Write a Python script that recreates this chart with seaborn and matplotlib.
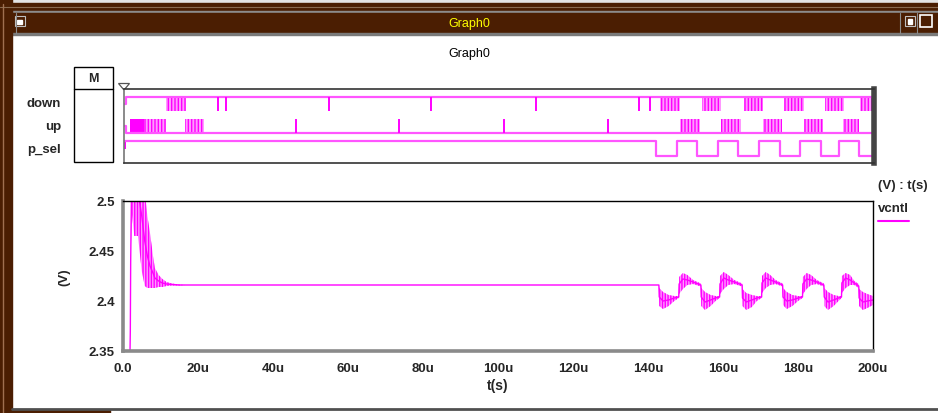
import numpy as np
import pandas as pd
import matplotlib
matplotlib.use("Agg")
import matplotlib.pyplot as plt
from matplotlib.patches import Rectangle, Polygon
import seaborn as sns

sns.set_style("white")
plt.rcParams['font.family'] = ['Liberation Sans', 'DejaVu Sans']
plt.rcParams['hatch.linewidth'] = 1.0

# ---------------- data ----------------
signal_names = ["down", "up", "p_sel"]

# digital: isolated single pulses (us)
down_pulses = [25.1, 27.2, 54.7, 81.9, 109.9, 137.3, 140.3]
up_pulses = [45.9, 73.3, 101.3, 129.0]
# digital: pulse bursts (start, end) in us
down_bursts = [(11.2, 16.5), (143.0, 148.2), (154.2, 159.1), (165.2, 170.3),
               (176.0, 181.2), (187.0, 192.1), (196.3, 200.0)]
up_bursts = [(5.4, 11.2), (16.3, 21.3), (148.3, 153.6), (159.2, 164.5),
             (170.4, 175.5), (181.3, 186.4), (191.7, 196.0)]
up_dense = [(1.6, 5.4)]
# p_sel edges (us): falling, rising, ...
psel_edges = [141.9, 147.5, 152.8, 158.4, 163.7, 169.3, 174.9, 180.3, 185.9, 190.7, 196.0]

# analog vcntl (time in us, volts): centre trace and ripple envelope
vc_t = [0.0, 1.8, 1.95, 2.05, 2.3, 3.0, 4.0, 5.0, 5.8, 6.5, 7.2, 8.0, 8.5, 9.5, 10.5, 11.6, 13.0, 15.0, 16.5,
        142.9, 143.0, 144.0, 145.5, 147.0, 148.2, 148.3, 149.3, 150.5, 152.0, 154.1,
        154.2, 155.2, 156.7, 158.0, 159.1, 159.2, 160.2, 161.4, 163.0, 165.1,
        165.2, 166.2, 167.7, 169.0, 170.3, 170.4, 171.4, 172.6, 174.0, 175.9,
        176.0, 177.0, 178.5, 180.0, 181.2, 181.3, 182.3, 183.5, 185.0, 186.9,
        187.0, 188.0, 189.5, 190.8, 191.6, 191.7, 192.7, 193.9, 195.0, 196.2,
        196.3, 197.3, 198.5, 200.0]
vc_mid = [2.30, 2.33, 2.37, 2.44, 2.52, 2.51, 2.51, 2.485, 2.46, 2.445, 2.435, 2.428, 2.423, 2.420, 2.418, 2.417, 2.4165, 2.416, 2.416,
          2.416, 2.404, 2.400, 2.401, 2.403, 2.404, 2.417, 2.422, 2.421, 2.419, 2.416,
          2.404, 2.399, 2.401, 2.403, 2.404, 2.417, 2.423, 2.421, 2.419, 2.416,
          2.403, 2.399, 2.401, 2.403, 2.404, 2.418, 2.423, 2.421, 2.419, 2.416,
          2.404, 2.400, 2.401, 2.403, 2.404, 2.417, 2.422, 2.421, 2.419, 2.416,
          2.404, 2.399, 2.401, 2.403, 2.404, 2.418, 2.423, 2.421, 2.418, 2.415,
          2.403, 2.399, 2.400, 2.401]
vc_hi = [2.30, 2.33, 2.37, 2.44, 2.56, 2.56, 2.56, 2.54, 2.51, 2.485, 2.468, 2.445, 2.433, 2.426, 2.422, 2.419, 2.4175, 2.4165, 2.416,
         2.416, 2.413, 2.409, 2.406, 2.405, 2.405, 2.424, 2.428, 2.426, 2.421, 2.4175,
         2.413, 2.409, 2.406, 2.405, 2.405, 2.425, 2.429, 2.426, 2.421, 2.4175,
         2.412, 2.408, 2.406, 2.405, 2.405, 2.425, 2.429, 2.426, 2.421, 2.4175,
         2.413, 2.409, 2.406, 2.405, 2.405, 2.424, 2.428, 2.426, 2.421, 2.4175,
         2.413, 2.409, 2.406, 2.405, 2.405, 2.425, 2.428, 2.426, 2.420, 2.417,
         2.412, 2.409, 2.407, 2.405]
vc_lo = [2.30, 2.33, 2.37, 2.44, 2.49, 2.465, 2.465, 2.43, 2.415, 2.413, 2.413, 2.413, 2.413, 2.414, 2.414, 2.415, 2.4155, 2.4155, 2.416,
         2.416, 2.395, 2.392, 2.395, 2.400, 2.403, 2.407, 2.412, 2.416, 2.417, 2.4145,
         2.395, 2.391, 2.395, 2.400, 2.403, 2.407, 2.412, 2.416, 2.417, 2.4145,
         2.395, 2.391, 2.394, 2.400, 2.403, 2.408, 2.413, 2.416, 2.417, 2.4145,
         2.396, 2.392, 2.395, 2.400, 2.403, 2.407, 2.412, 2.416, 2.417, 2.4145,
         2.395, 2.391, 2.395, 2.400, 2.403, 2.408, 2.413, 2.416, 2.416, 2.413,
         2.395, 2.391, 2.393, 2.396]

x_ticks = [0, 20, 40, 60, 80, 100, 120, 140, 160, 180, 200]
x_tick_labels = ["0.0", "20u", "40u", "60u", "80u", "100u", "120u", "140u", "160u", "180u", "200u"]
y_ticks = [2.35, 2.40, 2.45, 2.50]
y_tick_labels = ["2.35", "2.4", "2.45", "2.5"]

# ---------------- layout ----------------
W, H = 938, 414
MAG = "#ff00ff"
MAG_L = "#ff55ff"
MAG_P = "#ff9cff"
BROWN = "#4b1e02"

fig = plt.figure(figsize=(W / 100, H / 100), dpi=100)
fig.patch.set_facecolor("white")


def px_axes(l, t, r, b, **kw):
    return fig.add_axes([l / W, 1 - b / H, (r - l) / W, (b - t) / H], **kw)


# background / window chrome in pixel coordinates
bg = px_axes(0, 0, W, H, zorder=-5)
bg.set_xlim(0, W)
bg.set_ylim(H, 0)
bg.axis("off")
bg.add_patch(Rectangle((0, 0), W, 4, color="#e4e4e4"))
bg.add_patch(Rectangle((0, 4), W, 9, color=BROWN))
bg.plot([0, W], [8, 8], color="#8a6a50", lw=0.8)
bg.add_patch(Rectangle((0, 12), W, 1.5, color="#8c8c8c"))
bg.add_patch(Rectangle((0, 13.5), W, 20, color=BROWN))
bg.add_patch(Rectangle((12, 33.5), W, 2, color="#7a7a7a"))
bg.add_patch(Rectangle((0, 0), 12, H, color=BROWN))
bg.plot([3, 3], [5, H], color="#a07050", lw=1)
bg.plot([12, W], [410, 410], color="#505050", lw=2)
bg.add_patch(Rectangle((0, 411), 110, 3, color=BROWN))
# title bar buttons
bg.add_patch(Rectangle((15, 17), 10, 10, facecolor=BROWN, edgecolor="#c0c0c0", lw=0.8))
bg.add_patch(Rectangle((17, 21), 5, 4, color="white"))
bg.add_patch(Rectangle((905, 17), 10, 10, facecolor=BROWN, edgecolor="#c0c0c0", lw=0.8))
bg.add_patch(Rectangle((908, 20), 4, 5, color="white"))
bg.add_patch(Rectangle((920, 16), 12, 12, facecolor=BROWN, edgecolor="white", lw=1.2))
bg.plot([16, 16], [14, 34], color="#8c8c8c", lw=0.8)
bg.plot([900, 900], [14, 34], color="#8c8c8c", lw=0.8)
bg.plot([917, 917], [14, 34], color="#8c8c8c", lw=0.8)
bg.text(469, 23.5, "Graph0", color="#ffff00", ha="center", va="center", fontsize=9)
bg.text(469, 54, "Graph0", color="black", ha="center", va="center", fontsize=9)

# M box
bg.add_patch(Rectangle((74, 68), 39, 95, facecolor="white", edgecolor="black", lw=1))
bg.plot([74, 113], [90, 90], color="black", lw=1)
bg.text(93.5, 79, "M", ha="center", va="center", fontsize=9, fontweight="bold")
row_y = [104, 127, 150]
for name, yy in zip(signal_names, row_y):
    bg.text(61, yy, name, ha="right", va="center", fontsize=9.5, fontweight="bold")
# cursor marker
bg.add_patch(Polygon([[118.5, 84.5], [129.5, 84.5], [124, 91]], closed=True,
                     facecolor="white", edgecolor="#555555", lw=0.9))

# legend text
bg.text(878, 186, "(V) : t(s)", ha="left", va="center", fontsize=9.5, fontweight="bold")
bg.text(878, 209, "vcntl", ha="left", va="center", fontsize=9.5, fontweight="bold")
bg.plot([878, 909], [222, 222], color=MAG, lw=1.5)
bg.text(64, 277, "(V)", ha="center", va="center", rotation=90, fontsize=9.5,
        fontweight="bold")
bg.text(498, 386, "t(s)", ha="center", va="center", fontsize=10, fontweight="bold")

# ---------------- digital panel ----------------
dg = px_axes(124, 90, 874, 164)
dg.set_xlim(0, 200)
dg.set_ylim(164, 90)
dg.set_xticks([])
dg.set_yticks([])
for s in ["top", "bottom"]:
    dg.spines[s].set_color("#333333")
    dg.spines[s].set_linewidth(1.2)
dg.spines["left"].set_color("#777777")
dg.spines["left"].set_linewidth(1.2)
dg.spines["right"].set_color("#444444")
dg.spines["right"].set_linewidth(4)

levels = {"down": (98, 112), "up": (120, 134), "p_sel": (142, 157)}

# down: mostly high, pulses low
dh, dl = levels["down"]
dg.plot([0, 0.5, 0.5, 200], [105, 105, dh, dh], color=MAG_L, lw=1.6)
dg.vlines(down_pulses, dh, dl, color=MAG, lw=1.4)
for a, b in down_bursts:
    dg.fill_between([a, b], dh, dl, facecolor=MAG_P, edgecolor=MAG, hatch="|||||", lw=0)

# up: mostly low, pulses high
uh, ul = levels["up"]
dg.plot([0, 0.5, 0.5, 200], [127, 127, ul, ul], color=MAG_L, lw=1.6)
dg.vlines(up_pulses, uh, ul, color=MAG, lw=1.4)
for a, b in up_bursts:
    dg.fill_between([a, b], uh, ul, facecolor=MAG_P, edgecolor=MAG, hatch="|||||", lw=0)
for a, b in up_dense:
    dg.fill_between([a, b], uh, ul, color=MAG, lw=0)

# p_sel: square wave
ph, pl = levels["p_sel"]
xs, ys = [0], [ph]
state = ph
for e in psel_edges:
    xs += [e, e]
    nxt = pl if state == ph else ph
    ys += [state, nxt]
    state = nxt
xs.append(200)
ys.append(state)
dg.plot(xs, ys, color=MAG_L, lw=1.6)
dg.fill_between([0, 0.5], ph, 150, color=MAG, lw=0)

# ---------------- analog panel ----------------
ax = px_axes(123, 202, 873, 352)
df = pd.DataFrame({"t": vc_t, "v": vc_mid, "hi": vc_hi, "lo": vc_lo})
ax.fill_between(df["t"], df["lo"], df["hi"], facecolor=MAG_P, edgecolor=MAG,
                hatch="||||||", lw=0)
sns.lineplot(data=df, x="t", y="v", ax=ax, color=MAG, lw=1.0, legend=False)
ax.set_xlim(0, 200)
ax.set_ylim(2.35, 2.50)
ax.set_xticks(x_ticks)
ax.set_xticklabels(x_tick_labels)
ax.set_yticks(y_ticks)
ax.set_yticklabels(y_tick_labels)
ax.set_xlabel("")
ax.set_ylabel("")
for s in ["top", "right"]:
    ax.spines[s].set_color("black")
    ax.spines[s].set_linewidth(1.0)
for s in ["left", "bottom"]:
    ax.spines[s].set_color("#8a8a8a")
    ax.spines[s].set_linewidth(2.6)
ax.tick_params(axis="x", direction="out", length=7, width=1, color="black",
               labelsize=9.5, pad=1)
ax.tick_params(axis="y", direction="out", length=4, width=1, color="#555555",
               labelsize=9.5, pad=2)
for lab in ax.get_xticklabels() + ax.get_yticklabels():
    lab.set_fontweight("bold")

fig.savefig("out.png", dpi=100)
